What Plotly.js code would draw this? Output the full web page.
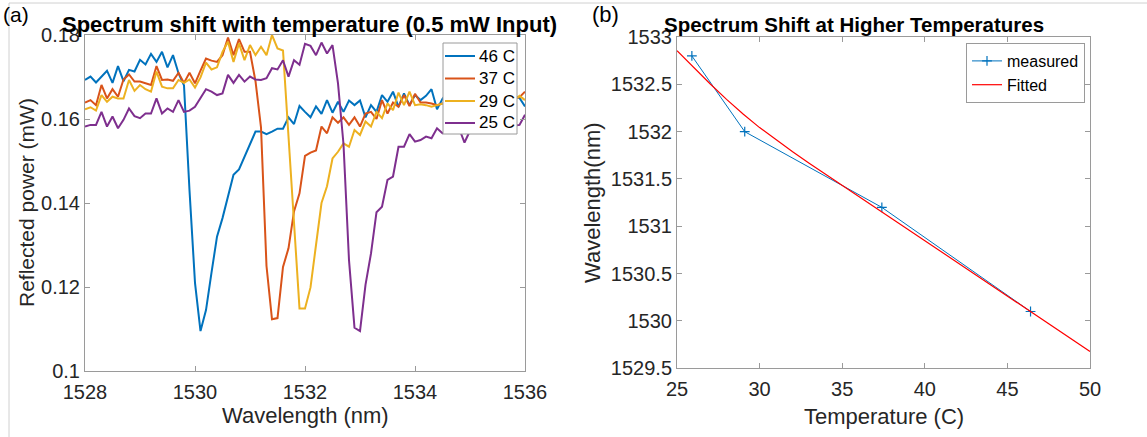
<!DOCTYPE html>
<html>
<head>
<meta charset="utf-8">
<script src="https://cdn.plot.ly/plotly-3.0.1.min.js"></script>
<style>html,body{margin:0;padding:0;background:#fff;}#chart{width:1147px;height:437px;}</style>
</head>
<body>
<div id="chart"></div>
<script>
// ---- Data: panel (a) reflected power spectra ----
const wavelength = [
 1528.0,1528.1,1528.2,1528.3,1528.4,1528.5,1528.6,1528.7,1528.8,1528.9,
 1529.0,1529.1,1529.2,1529.3,1529.4,1529.5,1529.6,1529.7,1529.8,1529.9,
 1530.0,1530.1,1530.2,1530.3,1530.4,1530.5,1530.6,1530.7,1530.8,1530.9,
 1531.0,1531.1,1531.2,1531.3,1531.4,1531.5,1531.6,1531.7,1531.8,1531.9,
 1532.0,1532.1,1532.2,1532.3,1532.4,1532.5,1532.6,1532.7,1532.8,1532.9,
 1533.0,1533.1,1533.2,1533.3,1533.4,1533.5,1533.6,1533.7,1533.8,1533.9,
 1534.0,1534.1,1534.2,1534.3,1534.4,1534.5,1534.6,1534.7,1534.8,1534.9,
 1535.0,1535.1,1535.2,1535.3,1535.4,1535.5,1535.6,1535.7,1535.8,1535.9,
 1536.0];
const power46C = [
 .1693,.1701,.1687,.1700,.1715,.1686,.1726,.1690,.1717,.1713,
 .1741,.1730,.1755,.1736,.1760,.1723,.1752,.1709,.1680,.1430,
 .1210,.1095,.1145,.1234,.1320,.1364,.1414,.1467,.1480,.1510,
 .1538,.1570,.1570,.1564,.1570,.1577,.1577,.1604,.1588,.1631,
 .1617,.1604,.1630,.1612,.1645,.1615,.1641,.1617,.1644,.1633,
 .1644,.1604,.1633,.1617,.1657,.1641,.1665,.1629,.1661,.1633,
 .1657,.1645,.1655,.1671,.1623,.1648,.1664,.1640,.1668,.1645,
 .1662,.1641,.1666,.1646,.1668,.1643,.1660,.1646,.1656,.1650,
 .1630];
const power37C = [
 .1639,.1645,.1633,.1681,.1649,.1671,.1653,.1694,.1706,.1689,
 .1689,.1685,.1681,.1726,.1693,.1694,.1691,.1710,.1686,.1710,
 .1685,.1715,.1744,.1739,.1736,.1752,.1794,.1752,.1790,.1760,
 .1760,.1690,.1580,.1250,.1123,.1126,.1248,.1292,.1380,.1423,
 .1512,.1520,.1525,.1582,.1566,.1604,.1591,.1604,.1586,.1604,
 .1582,.1613,.1617,.1600,.1645,.1613,.1639,.1629,.1657,.1631,
 .1660,.1639,.1639,.1637,.1633,.1637,.1642,.1638,.1646,.1640,
 .1648,.1641,.1650,.1644,.1648,.1642,.1650,.1645,.1648,.1652,
 .1665];
const power29C = [
 .1623,.1628,.1620,.1657,.1641,.1653,.1649,.1649,.1693,.1667,
 .1681,.1671,.1665,.1713,.1677,.1673,.1673,.1693,.1686,.1694,
 .1675,.1699,.1734,.1718,.1723,.1760,.1784,.1736,.1780,.1740,
 .1776,.1752,.1772,.1752,.1800,.1768,.1763,.1560,.1376,.1149,
 .1149,.1199,.1300,.1400,.1440,.1506,.1522,.1542,.1534,.1574,
 .1562,.1594,.1582,.1617,.1602,.1637,.1621,.1663,.1633,.1665,
 .1633,.1635,.1633,.1629,.1633,.1636,.1640,.1634,.1642,.1637,
 .1644,.1636,.1645,.1639,.1643,.1638,.1646,.1640,.1644,.1655,
 .1645];
const power25C = [
 .1582,.1586,.1586,.1617,.1582,.1606,.1578,.1598,.1625,.1607,
 .1602,.1613,.1613,.1649,.1613,.1625,.1617,.1645,.1617,.1620,
 .1629,.1649,.1671,.1665,.1657,.1661,.1705,.1686,.1705,.1689,
 .1701,.1694,.1693,.1697,.1721,.1718,.1740,.1701,.1740,.1729,
 .1779,.1774,.1752,.1782,.1756,.1776,.1685,.1540,.1264,.1103,
 .1095,.1205,.1280,.1378,.1391,.1455,.1463,.1534,.1534,.1564,
 .1546,.1550,.1558,.1554,.1578,.1566,.1574,.1570,.1578,.1544,
 .1572,.1580,.1576,.1582,.1578,.1585,.1580,.1588,.1584,.1586,
 .1610];
const seriesLabels = ["46 C", "37 C", "29 C", "25 C"];

// ---- Data: panel (b) wavelength vs temperature ----
const measuredTemp = [25.9, 29.1, 37.4, 46.4];
const measuredWavelength = [1532.8, 1532.0, 1531.2, 1530.1];
const fittedTemp = [25, 26, 27, 28, 29, 30, 31, 32, 33, 35, 37, 40, 43, 46, 50];
const fittedWavelength = [1532.855, 1532.678, 1532.506, 1532.341, 1532.186, 1532.043, 1531.911,
  1531.787, 1531.667, 1531.433, 1531.199, 1530.848, 1530.497, 1530.146, 1529.678];

// ---- Layout helpers ----
const W = 1147, H = 437;
const FONT = 'Arial, "Liberation Sans", Helvetica, sans-serif';
const colors = ["#0072BD", "#D95319", "#EDB120", "#7E2F8E"];
const axisColor = "#9a9a9a";
const textColor = "#262626";
function px(x) { return x / W; }
function py(y) { return 1 - y / H; }
function ann(text, x, y, size, opts) {
  return Object.assign({
    text: text, x: px(x), y: py(y), xref: "paper", yref: "paper",
    showarrow: false, xanchor: "center", yanchor: "middle",
    font: {family: FONT, size: size, color: "#000"}
  }, opts || {});
}

const spectra = [power46C, power37C, power29C, power25C];
const traces = spectra.map((vals, i) => ({
  x: wavelength, y: vals, type: "scatter", mode: "lines",
  name: seriesLabels[i], line: {color: colors[i], width: 2},
  xaxis: "x", yaxis: "y", showlegend: false
}));
traces.push({
  x: measuredTemp, y: measuredWavelength, type: "scatter", mode: "lines+markers",
  name: "measured", line: {color: "#0072BD", width: 1},
  marker: {symbol: "cross-thin", size: 7, color: "#0072BD", line: {color: "#0072BD", width: 1.2}},
  xaxis: "x2", yaxis: "y2", legend: "legend2"
});
traces.push({
  x: fittedTemp, y: fittedWavelength, type: "scatter", mode: "lines",
  name: "Fitted", line: {color: "#FF0000", width: 1.2},
  xaxis: "x2", yaxis: "y2", legend: "legend2"
});

// Legend box for panel (a), built from the series labels and colours
const legendBox = {x0: 443, x1: 517, y0: 43, y1: 134};
const legendRows = [56, 78.5, 101, 123];
const shapes = [
  {type: "line", xref: "paper", yref: "paper", x0: px(9), x1: 1, y0: py(3), y1: py(3), line: {color: "#d0d0d0", width: 1}},
  {type: "line", xref: "paper", yref: "paper", x0: px(9), x1: px(9), y0: py(3), y1: 0, line: {color: "#d0d0d0", width: 1}},
  {type: "rect", xref: "paper", yref: "paper", x0: px(legendBox.x0), x1: px(legendBox.x1),
   y0: py(legendBox.y1), y1: py(legendBox.y0), fillcolor: "#fff", line: {color: axisColor, width: 1}}
];
const annotations = [
  ann("(a)", 16, 14, 21),
  ann("(b)", 605, 14, 22),
  ann("<b>Spectrum shift with temperature (0.5 mW Input)</b>", 309.5, 24, 22),
  ann("<b>Spectrum Shift at Higher Temperatures</b>", 853.5, 24, 20.5),
  ann("Wavelength (nm)", 305, 415, 22, {font: {family: FONT, size: 22, color: textColor}}),
  ann("Reflected power (mW)", 27, 203, 21, {textangle: -90, font: {family: FONT, size: 21, color: textColor}}),
  ann("Temperature (C)", 884, 416, 22, {font: {family: FONT, size: 22, color: textColor}}),
  ann("Wavelength(nm)", 593, 203, 22, {textangle: -90, font: {family: FONT, size: 22, color: textColor}})
];
seriesLabels.forEach((lab, i) => {
  shapes.push({type: "line", xref: "paper", yref: "paper", x0: px(445), x1: px(475),
    y0: py(legendRows[i]), y1: py(legendRows[i]), line: {color: colors[i], width: 2}});
  annotations.push(ann(lab, 477, legendRows[i], 17, {xanchor: "left"}));
});

const baseAxis = {
  showline: true, linecolor: axisColor, linewidth: 1, mirror: "allticks",
  ticks: "inside", ticklen: 5, tickcolor: axisColor, tickwidth: 1,
  showgrid: false, zeroline: false,
  tickfont: {family: FONT, size: 20, color: textColor}
};

const layout = {
  width: W, height: H, autosize: false,
  margin: {l: 0, r: 0, t: 0, b: 0},
  paper_bgcolor: "#fff", plot_bgcolor: "#fff",
  font: {family: FONT},
  showlegend: true,
  xaxis: Object.assign({}, baseAxis, {domain: [px(85), px(525)], range: [1528, 1536], tickvals: [1528, 1530, 1532, 1534, 1536], tickformat: "d", ticklabelstandoff: 3, anchor: "y"}),
  yaxis: Object.assign({}, baseAxis, {domain: [py(371), py(35)], range: [0.1, 0.18], tickvals: [0.1, 0.12, 0.14, 0.16, 0.18], tickformat: ".2~f", anchor: "x"}),
  xaxis2: Object.assign({}, baseAxis, {domain: [px(677), px(1090)], range: [25, 50], dtick: 5, tick0: 25, ticklabelstandoff: 3, anchor: "y2"}),
  yaxis2: Object.assign({}, baseAxis, {domain: [py(368.3), py(37)], range: [1529.5, 1533], dtick: 0.5, tick0: 1529.5, tickformat: ".1~f", anchor: "x2"}),
  legend2: {
    x: px(1085), y: py(43), xanchor: "right", yanchor: "top",
    bgcolor: "#fff", bordercolor: axisColor, borderwidth: 1,
    font: {family: FONT, size: 16, color: "#000"}, itemwidth: 30, tracegroupgap: 0
  },
  annotations: annotations,
  shapes: shapes
};

Plotly.newPlot("chart", traces, layout, {displayModeBar: false, staticPlot: true});
</script>
</body>
</html>
